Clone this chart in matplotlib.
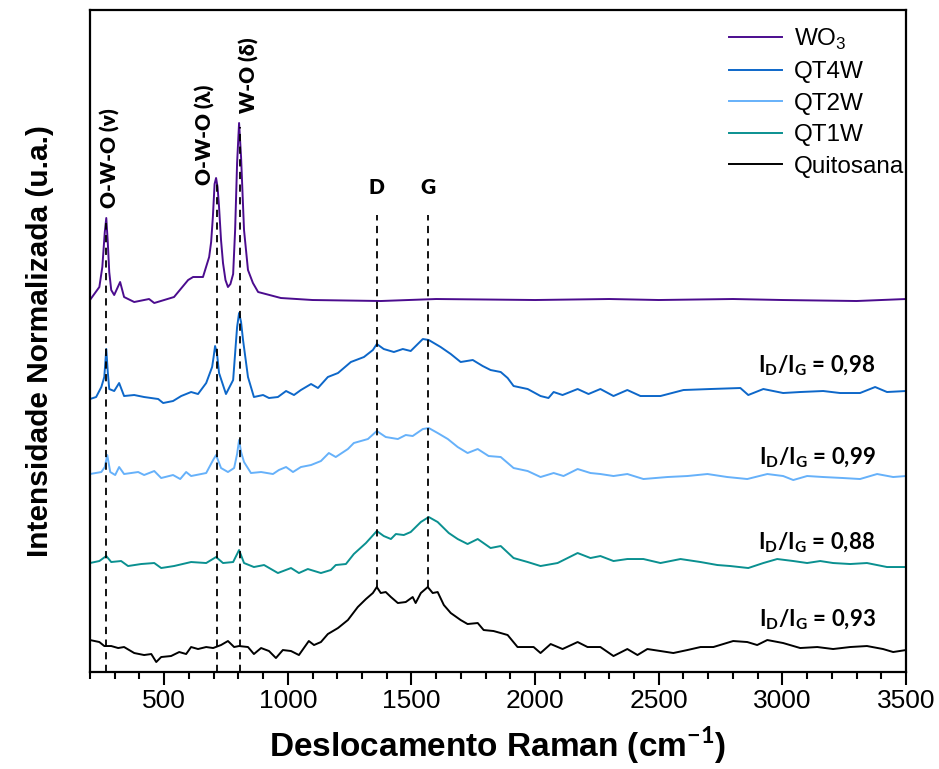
import numpy as np
import matplotlib
matplotlib.use("Agg")
import matplotlib.pyplot as plt
from matplotlib.ticker import MultipleLocator

plt.rcParams['font.family'] = ['Liberation Sans Narrow', 'Liberation Sans', 'DejaVu Sans']
plt.rcParams['mathtext.fontset'] = 'custom'
plt.rcParams['mathtext.rm'] = 'Liberation Sans'
plt.rcParams['mathtext.bf'] = 'Lato:bold'

# espectros Raman (normalizados, com deslocamento vertical)
wo3_x = [200, 238, 250, 260, 266, 272, 278, 286, 298, 322, 338, 379, 439, 460, 540, 597, 617, 657,
         682, 690, 697, 704, 710, 716, 722, 730, 738, 748, 758, 768, 779, 787, 795, 803, 811, 823,
         839, 859, 880, 972, 1100, 1376, 1600, 2000, 2300, 2500, 2800, 3000, 3300, 3500]
wo3_y = [372, 385, 405, 440, 454, 430, 400, 382, 377, 390, 375, 370, 373, 369, 375, 392, 395, 395,
         415, 430, 455, 488, 494, 485, 465, 432, 409, 392, 385, 388, 398, 442, 509, 549, 515, 442,
         402, 389, 380, 374, 372, 371, 373, 372, 373, 372, 373, 372, 371, 373]

qt4w_x = [200, 225, 246, 258, 266, 272, 278, 298, 318, 338, 379, 419, 476, 496, 536, 569, 609, 637,
          670, 694, 700, 706, 714, 722, 750, 779, 791, 795, 803, 811, 819, 839, 863, 900, 924, 960,
          993, 1025, 1053, 1094, 1122, 1162, 1203, 1255, 1308, 1344, 1360, 1388, 1429, 1465, 1497,
          1546, 1570, 1618, 1659, 1699, 1748, 1788, 1820, 1861, 1889, 1913, 1970, 2022, 2054, 2075,
          2111, 2172, 2216, 2264, 2317, 2373, 2426, 2507, 2600, 2709, 2830, 2862, 2923, 3003, 3072,
          3165, 3233, 3314, 3375, 3423, 3500]
qt4w_y = [273, 275, 285, 295, 323, 300, 283, 281, 289, 276, 277, 275, 273, 269, 271, 276, 280, 278,
          289, 305, 315, 326, 318, 299, 278, 292, 332, 345, 359, 350, 332, 295, 275, 277, 274, 275,
          281, 277, 282, 288, 284, 295, 299, 310, 315, 322, 328, 323, 320, 323, 321,
          333, 332, 325, 318, 310, 312, 306, 302, 300, 294, 286, 283, 276, 274, 280,
          277, 283, 278, 283, 276, 282, 276, 276, 282, 283, 284, 277, 283, 279, 280,
          281, 279, 279, 285, 280, 281]

qt2w_x = [200, 246, 260, 270, 282, 302, 318, 338, 395, 419, 460, 488, 536, 565, 589, 609, 670, 698,
          710, 730, 758, 783, 795, 803, 811, 823, 851, 892, 940, 964, 993, 1021, 1053, 1094, 1134,
          1166, 1194, 1243, 1267, 1324, 1360, 1396, 1445, 1477, 1505, 1546, 1570, 1606, 1647, 1687,
          1727, 1768, 1812, 1861, 1913, 1970, 2022, 2075, 2115, 2172, 2224, 2264, 2317, 2373, 2438,
          2535, 2616, 2697, 2777, 2858, 2939, 3003, 3044, 3100, 3165, 3245, 3314, 3383, 3448, 3500]
qt2w_y = [198, 200, 205, 217, 200, 197, 205, 198, 200, 197, 201, 194, 197, 193, 200, 196, 199, 212,
          217, 204, 200, 204, 218, 232, 220, 210, 199, 200, 198, 202, 205, 200, 205, 207, 211,
          219, 215, 223, 229, 233, 241, 235, 233, 237, 236, 243, 244, 239, 233, 225,
          219, 223, 216, 215, 204, 201, 195, 199, 196, 203, 199, 198, 196, 198, 193,
          195, 196, 198, 195, 193, 198, 196, 192, 196, 195, 194, 193, 198, 195, 196]

qt1w_x = [200, 238, 266, 286, 326, 354, 407, 460, 488, 540, 609, 670, 710, 738, 779, 803, 823, 863,
          904, 960, 1013, 1045, 1081, 1134, 1174, 1194, 1235, 1267, 1316, 1360, 1388, 1417, 1437,
          1469, 1497, 1538, 1570, 1606, 1651, 1687, 1727, 1768, 1820, 1861, 1913, 1970, 2022, 2091,
          2172, 2224, 2264, 2317, 2373, 2438, 2507, 2588, 2669, 2737, 2789, 2862, 2923, 2979, 3044,
          3100, 3153, 3205, 3274, 3342, 3423, 3500]
qt1w_y = [109, 111, 116, 110, 111, 106, 108, 109, 104, 106, 110, 109, 115, 109, 110, 122, 109, 105,
          107, 99, 104, 99, 103, 99, 102, 107, 108, 118, 129, 141, 136, 133, 138,
          137, 140, 150, 155, 150, 139, 133, 128, 133, 124, 126, 114, 110, 106, 109,
          119, 114, 116, 111, 113, 113, 109, 113, 110, 107, 106, 104, 109, 113, 111,
          109, 111, 109, 108, 109, 105, 105]

quit_x = [200, 238, 258, 286, 314, 338, 379, 419, 448, 468, 488, 528, 561, 589, 609, 637, 670, 698,
          730, 758, 783, 803, 839, 863, 892, 924, 952, 980, 1013, 1045, 1065, 1085, 1106, 1134,
          1162, 1203, 1243, 1283, 1316, 1344, 1360, 1376, 1396, 1417, 1445, 1477, 1505, 1517,
          1538, 1566, 1586, 1606, 1631, 1659, 1699, 1727, 1768, 1792, 1832, 1861, 1889, 1929,
          1970, 1994, 2022, 2063, 2111, 2172, 2212, 2264, 2317, 2373, 2414, 2454, 2507, 2559,
          2616, 2669, 2721, 2801, 2858, 2898, 2939, 3003, 3072, 3141, 3205, 3274, 3342, 3407,
          3448, 3500]
quit_y = [32, 30, 26, 26, 24, 25, 19, 17, 18, 10, 15, 16, 20, 18, 25, 23, 25, 24,
          27, 31, 25, 26, 25, 18, 24, 21, 14, 22, 21, 17, 24, 31, 27, 30,
          38, 44, 52, 65, 73, 79, 85, 79, 80, 75, 69, 70, 75, 69,
          79, 85, 79, 80, 67, 59, 52, 48, 49, 42, 41, 39, 37, 25,
          25, 25, 19, 28, 23, 30, 25, 25, 16, 23, 17, 23, 21, 19,
          22, 25, 25, 31, 30, 27, 32, 29, 24, 25, 23, 25, 26, 23,
          20, 22]

labels = ["WO$_3$", "QT4W", "QT2W", "QT1W", "Quitosana"]
cores = ["#4b0c8e", "#0d67c9", "#66b1fa", "#0a9090", "#000000"]

# linhas de referencia (posicao, topo, base)
bandas_x = [266, 714, 807, 1360, 1566]
bandas_top = [449, 490, 545, 457, 457]
bandas_bot = [0, 0, 0, 85, 85]

razao = ["0,98", "0,99", "0,88", "0,93"]
razao_y = [306, 214, 129, 52]

fig = plt.figure(figsize=(9.39, 7.69), dpi=100)
ax = fig.add_axes([0.0958, 0.1261, 0.8691, 0.8609])

dados = [(wo3_x, wo3_y), (qt4w_x, qt4w_y), (qt2w_x, qt2w_y), (qt1w_x, qt1w_y), (quit_x, quit_y)]
for (x, y), lab, c in zip(dados, labels, cores):
    ax.plot(x, y, color=c, lw=1.4, label=lab)

for bx, bt, bb in zip(bandas_x, bandas_top, bandas_bot):
    ax.plot([bx, bx], [bb, bt], color="black", lw=1.3, ls=(0, (4, 3)))

fb = dict(family=['Lato', 'DejaVu Sans'], fontweight='heavy', fontsize=15)
ax.text(282, 464, "O-W-O (ν)", rotation=90, ha='center', va='bottom', **fb)
ax.text(666, 487, "O-W-O (λ)", rotation=90, ha='center', va='bottom', **fb)
ax.text(843, 559, "W-O (δ)", rotation=90, ha='center', va='bottom', **fb)
ax.text(1360, 485, "D", ha='center', va='center', **fb)
ax.text(1566, 485, "G", ha='center', va='center', **fb)

for r, ry in zip(razao, razao_y):
    ax.text(3140, ry, r"$\mathbf{I_D/I_G}$ = " + r, ha='center', va='center',
            family=['Lato', 'DejaVu Sans'], fontweight='bold', fontsize=16)

ax.set_xlim(200, 3500)
ax.set_ylim(0, 662)
ax.xaxis.set_major_locator(MultipleLocator(500))
ax.xaxis.set_minor_locator(MultipleLocator(100))
ax.set_yticks([])
ax.tick_params(axis='x', which='major', direction='out', length=9, width=1.5, labelsize=19)
ax.tick_params(axis='x', which='minor', direction='out', length=5, width=1.5)
for s in ax.spines.values():
    s.set_linewidth(1.6)

ax.set_xlabel(r"Deslocamento Raman (cm$^{\mathbf{-1}}$)", fontsize=24, fontweight='bold', labelpad=8)
ax.set_ylabel("Intensidade Normalizada (u.a.)", fontsize=21.5, fontweight='bold', labelpad=26)

leg = ax.legend(loc='upper right', bbox_to_anchor=(1.01, 0.99), frameon=False, handlelength=2.2,
                labelspacing=0.39, borderaxespad=0.0, handletextpad=0.5,
                prop={'family': 'Liberation Sans', 'size': 17.5})

fig.savefig("out.png", dpi=100)
